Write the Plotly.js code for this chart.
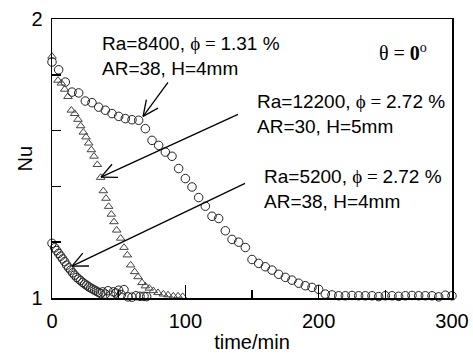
<!DOCTYPE html>
<html>
<head>
<meta charset="utf-8">
<script src="https://cdn.plot.ly/plotly-3.0.1.min.js"></script>
<style>html,body{margin:0;padding:0;background:#fff;}#chart{width:473px;height:353px;}</style>
</head>
<body>
<div id="chart"></div>
<script>
// Series 1: Ra=8400, phi=1.31%, AR=38, H=4mm (circles)
const timeA = [0,5,10,15,20,25,30,35,40,45,50,55,60,65,70,75,80,85,90,95,100,105,110,115,120,125,130,135,140,145,150,155,160,165,170,175,180,185,190,195,200,205,210,215,220,225,230,235,240,245,250,255,260,265,270,275,280,285,290,295,300];
const nuA = [1.846,1.818,1.774,1.738,1.735,1.706,1.700,1.684,1.673,1.661,1.651,1.643,1.639,1.637,1.607,1.565,1.547,1.523,1.508,1.464,1.428,1.398,1.360,1.329,1.293,1.285,1.241,1.210,1.200,1.181,1.138,1.124,1.112,1.100,1.085,1.074,1.064,1.053,1.044,1.038,1.031,1.014,1.011,1.008,1.008,1.009,1.008,1.008,1.008,1.005,1.008,1.008,1.006,1.008,1.009,1.008,1.008,1.008,1.004,1.010,1.008];

// Series 2: Ra=12200, phi=2.72%, AR=30, H=5mm (triangles)
const timeB = [0,4.5,7,9.5,12,14.5,17,19.5,21.5,23.5,25.5,27.5,29.5,31.5,34,36.5,38.5,40.5,42.5,44.5,46.5,48.5,51.5,54,56.5,59,62,64.5,67.5,70,73,76,79.5,83.5,87,91,94.5,98,102];
const nuB = [1.866,1.780,1.770,1.748,1.722,1.673,1.661,1.640,1.617,1.594,1.577,1.555,1.531,1.508,1.478,1.432,1.384,1.357,1.328,1.300,1.273,1.243,1.214,1.181,1.154,1.118,1.094,1.076,1.055,1.043,1.035,1.026,1.019,1.014,1.011,1.007,1.007,1.005,0.995];

// Series 3: Ra=5200, phi=2.72%, AR=38, H=4mm (circles)
const timeC = [0,2,3.5,5,6.5,8,9.5,11,12.5,14,15.5,17,18.5,20,21.5,23,24.5,26,27.5,29,30.5,32,33.5,35,36.5,38,40,42,44,46,48,50,52,54,57,60,63,66,69,71];
const nuC = [1.196,1.180,1.170,1.160,1.150,1.140,1.130,1.118,1.108,1.100,1.090,1.082,1.074,1.068,1.062,1.056,1.050,1.046,1.040,1.036,1.032,1.028,1.024,1.020,1.016,1.022,1.014,1.026,1.010,1.022,1.018,1.028,1.012,1.030,1.004,1.003,1.008,1.006,1.006,1.005];

const xTickVals = [0,100,200,300];
const xTickText = ['0','100','200','300'];
const yTickVals = [1,2];
const yTickText = ['1','2'];

const labels = [
  {text:"Ra=8400, <span style='font-family:Liberation Serif'>\u03D5 = </span>1.31 %<br>AR=38, H=4mm", x:36, y:1.869},
  {text:"Ra=12200, <span style='font-family:Liberation Serif'>\u03D5 = </span>2.72 %<br>AR=30, H=5mm", x:152.3, y:1.659},
  {text:"Ra=5200, <span style='font-family:Liberation Serif'>\u03D5 = </span>2.72 %<br>AR=38, H=4mm", x:157.5, y:1.391}
];
const arrows = [
  {tail:[87,1.773], tip:[68.3,1.651]},
  {tail:[139.5,1.658], tip:[36.75,1.433]},
  {tail:[144.75,1.411], tip:[15,1.114]}
];

const W = 473, H = 353;
const M = {l:52, r:21, t:19, b:55};
const plotW = W - M.l - M.r, plotH = H - M.t - M.b;
const sx = plotW/300, sy = plotH/1;

const mk = (sym, size, col) => ({symbol:sym, size:size, color:col, line:{color:col, width:1}});
const traces = [
  {x:timeA, y:nuA, mode:'markers', type:'scatter', cliponaxis:false, marker:mk('circle-open',8.5,'#222')},
  {x:timeB, y:nuB, mode:'markers', type:'scatter', cliponaxis:false, marker:mk('triangle-up-open',7.5,'#444')},
  {x:timeC, y:nuC, mode:'markers', type:'scatter', cliponaxis:false, marker:mk('circle-open',8.5,'#222')}
];

const shapes = [];
arrows.forEach(a => {
  shapes.push({type:'line', xref:'x', yref:'y', x0:a.tail[0], y0:a.tail[1], x1:a.tip[0], y1:a.tip[1], line:{color:'#000', width:1.3}});
  let dx = (a.tail[0]-a.tip[0])*sx, dy = (a.tail[1]-a.tip[1])*sy;
  const L = Math.hypot(dx,dy); dx/=L; dy/=L;
  const len = 17, ang = 25*Math.PI/180;
  [ang,-ang].forEach(t => {
    const rx = dx*Math.cos(t) - dy*Math.sin(t), ry = dx*Math.sin(t) + dy*Math.cos(t);
    shapes.push({type:'line', xref:'x', yref:'y', xsizemode:'pixel', ysizemode:'pixel', xanchor:a.tip[0], yanchor:a.tip[1], x0:0, y0:0, x1:rx*len, y1:ry*len, line:{color:'#000', width:1.3}});
  });
});

const annotations = labels.map(l => ({text:l.text, x:l.x, y:l.y, xref:'x', yref:'y', xanchor:'left', yanchor:'middle', align:'left', showarrow:false, font:{family:'Liberation Sans, Arial', size:19, color:'#000'}}));
annotations.push({text:"\u03B8 = <b>0</b><sup>o</sup>", x:263, y:1.882, xref:'x', yref:'y', xanchor:'center', yanchor:'middle', showarrow:false, font:{family:'Liberation Serif, Times New Roman', size:20, color:'#000'}});
// y-axis title placed as rotated text
annotations.push({text:'Nu', textangle:-90, xref:'paper', yref:'paper', x:(24-M.l)/plotW, y:0.5, xanchor:'center', yanchor:'middle', showarrow:false, font:{family:'Liberation Sans, Arial', size:20, color:'#000'}});

const layout = {
  width:W, height:H, margin:M, showlegend:false,
  paper_bgcolor:'#fff', plot_bgcolor:'#fff',
  font:{family:'Liberation Sans, Arial', size:20, color:'#000'},
  xaxis:{range:[0,300], showgrid:false, zeroline:false, showline:true, linecolor:'#000', linewidth:1.5, mirror:true,
    tickmode:'array', tickvals:xTickVals, ticktext:xTickText, ticks:'inside', ticklen:13, tickwidth:1.5, tickcolor:'#000',
    ticklabelstandoff:4,
    minor:{dtick:50, tick0:0, ticks:'inside', ticklen:8, tickwidth:1.5, tickcolor:'#000', showgrid:false},
    title:{text:'time/min', font:{size:20}, standoff:5}, tickfont:{size:20}},
  yaxis:{range:[1,2], showgrid:false, zeroline:false, showline:true, linecolor:'#000', linewidth:1.5, mirror:true,
    tickmode:'array', tickvals:yTickVals, ticktext:yTickText, ticks:'inside', ticklen:9, tickwidth:1.5, tickcolor:'#000',
    ticklabelstandoff:4,
    minor:{dtick:0.2, tick0:1, ticks:'inside', ticklen:9, tickwidth:1.5, tickcolor:'#000', showgrid:false},
    tickfont:{size:20}},
  shapes:shapes, annotations:annotations
};
Plotly.newPlot('chart', traces, layout, {staticPlot:true, displayModeBar:false});
</script>
</body>
</html>
